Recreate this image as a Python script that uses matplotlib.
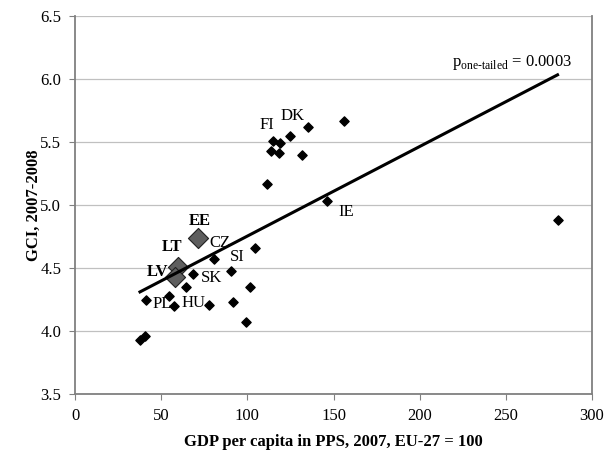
import matplotlib.pyplot as plt
import matplotlib.transforms as mtransforms
import numpy as np

plt.rcParams['font.family'] = ['Liberation Serif', 'DejaVu Serif']
plt.rcParams['mathtext.fontset'] = 'custom'
plt.rcParams['mathtext.rm'] = 'Liberation Serif'

# GDP per capita in PPS (EU-27 = 100) and GCI score, all countries
gdp = [37.7, 40.6, 41.2, 54.7, 57.6, 64.4, 68.7, 77.8, 80.9, 90.4, 91.7,
       99.1, 101.6, 104.5, 111.2, 114.0, 114.7, 118.4, 119.0, 124.8,
       131.6, 135.0, 146.1, 156.3, 280.0, 72.5, 61.0, 59.0]
gci = [3.93, 3.96, 4.25, 4.28, 4.20, 4.35, 4.45, 4.21, 4.57, 4.48, 4.23,
       4.07, 4.35, 4.66, 5.17, 5.43, 5.51, 5.41, 5.49, 5.55,
       5.40, 5.62, 5.03, 5.67, 4.88, 4.72, 4.49, 4.41]

# Baltic states, highlighted
baltic = ['EE', 'LT', 'LV']
baltic_gdp = [72.5, 61.0, 59.0]
baltic_gci = [4.72, 4.49, 4.41]

# other labelled countries
named = ['CZ', 'SI', 'SK', 'PL', 'HU', 'FI', 'DK', 'IE']
named_gdp = [80.9, 90.4, 68.7, 41.2, 57.6, 114.7, 124.8, 146.1]
named_gci = [4.57, 4.48, 4.45, 4.25, 4.20, 5.51, 5.55, 5.03]

p_value = '0.0003'

fig = plt.figure(figsize=(6.08, 4.59), dpi=100)
ax = fig.add_axes([0.1234, 0.1416, 0.8503, 0.8235])

ax.scatter(gdp, gci, marker='D', s=22, color='black', zorder=3)

shift = mtransforms.offset_copy(ax.transData, fig=fig, x=-2, y=2, units='dots')
ax.scatter(baltic_gdp, baltic_gci, marker='D', s=105, color='#5e5e5e',
           edgecolor='#202020', linewidth=0.8, zorder=4, transform=shift)

# least squares trend line
x = np.array(gdp)
y = np.array(gci)
k, b = np.polyfit(x, y, 1)
xs = np.array([x.min(), x.max()])
ax.plot(xs, k * xs + b, color='black', lw=2.2, zorder=5)

# label offsets in points
baltic_off = {'EE': (0, 14), 'LT': (-6, 16), 'LV': (-14, 5.5)}
for name, gx, gy in zip(baltic, baltic_gdp, baltic_gci):
    dx, dy = baltic_off[name]
    ax.annotate(name, (gx, gy), xytext=(dx, dy), textcoords='offset points',
                ha='center', va='center', fontsize=12, fontweight='bold')

named_off = {'CZ': (4, 12), 'SI': (4.5, 10), 'SK': (13, -3), 'PL': (11.5, -3),
             'HU': (13.5, 2), 'FI': (-4, 11), 'DK': (1.5, 14), 'IE': (14, -8)}
for name, gx, gy in zip(named, named_gdp, named_gci):
    dx, dy = named_off[name]
    ax.annotate(name, (gx, gy), xytext=(dx, dy), textcoords='offset points',
                ha='center', va='center', fontsize=12)

ax.text(0.845, 0.878, 'p$_{\\mathrm{one\u2010tailed}}$ = ' + p_value,
        transform=ax.transAxes, ha='center', va='center', fontsize=12)

ax.set_xlim(0, 300)
ax.set_ylim(3.5, 6.5)
ax.set_xticks(np.arange(0, 301, 50))
ax.set_yticks(np.arange(3.5, 6.51, 0.5))
ax.yaxis.set_major_formatter(plt.FormatStrFormatter('%.1f'))
ax.yaxis.grid(True, color='#c0c0c0', lw=0.9)
ax.set_axisbelow(True)

for side in ['left', 'bottom', 'right']:
    ax.spines[side].set_color('#808080')
    ax.spines[side].set_linewidth(1.3)
ax.spines['top'].set_visible(False)
ax.tick_params(direction='out', length=4, color='#808080', labelsize=12, pad=6)

ax.set_xlabel('GDP per capita in PPS, 2007, EU-27 = 100', fontsize=12,
              fontweight='bold', labelpad=7)
ax.set_ylabel('GCI, 2007-2008', fontsize=12, fontweight='bold', labelpad=-1)

fig.savefig('out.png', dpi=100)
